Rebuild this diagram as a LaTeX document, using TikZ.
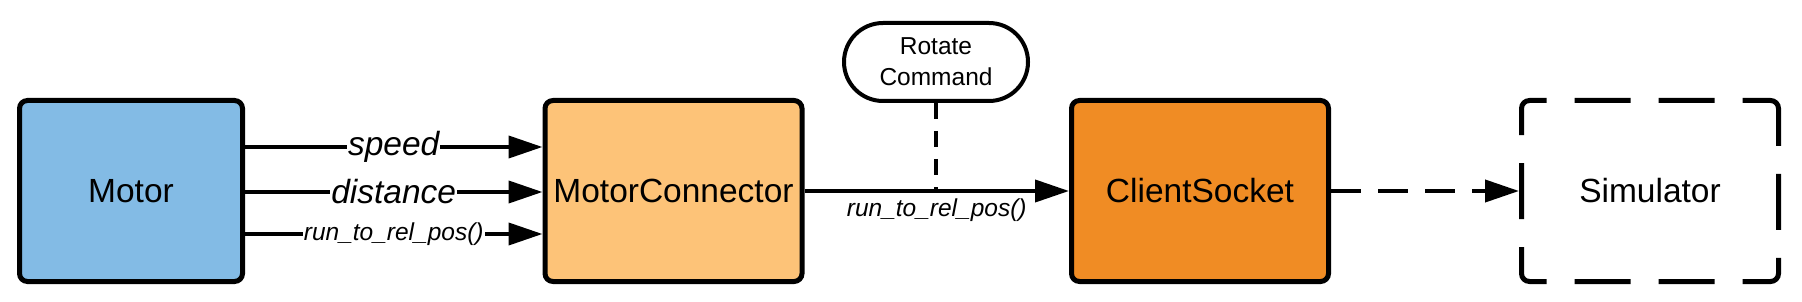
\documentclass[tikz,border=0pt]{standalone}
\usepackage{fontspec}
\setmainfont{Liberation Sans}
\usetikzlibrary{arrows.meta}
\definecolor{motorblue}{RGB}{131,187,229}
\definecolor{mclight}{RGB}{253,195,120}
\definecolor{csorange}{RGB}{240,140,36}
\tikzset{
  block/.style={draw=black, line width=5pt, rounded corners=8pt, minimum width=257pt, minimum height=181pt, inner sep=0pt, font=\fontsize{33.5}{40}\selectfont},
  conn/.style={line width=4pt, -{Triangle[length=34pt,width=22pt]}},
  lbl/.style={fill=white, inner sep=1pt, font=\fontsize{33.5}{40}\selectfont\itshape},
  slbl/.style={fill=white, inner sep=1pt, font=\fontsize{24.5}{30}\selectfont\itshape},
  pill/.style={draw=black, line width=4pt, rounded corners=39pt, minimum width=184pt, minimum height=78pt, inner sep=0pt, align=center, font=\fontsize{24.5}{31}\selectfont},
}
\begin{document}
\begin{tikzpicture}[x=1pt,y=-1pt]
\useasboundingbox (0,0) rectangle (1802,302);
\node[block, fill=motorblue, minimum width=223pt] (motor) at (131,191) {Motor};
\node[block, fill=mclight] (mc) at (673.5,191) {MotorConnector};
\node[block, fill=csorange] (cs) at (1200,191) {ClientSocket};
\node[block, dash pattern=on 56pt off 28pt, dash phase=28pt] (sim) at (1650,191) {Simulator};
\node[pill] (rot) at (936,62) {Rotate\\Command};

\draw[conn] (motor.east |- 0,147) -- (mc.west |- 0,147) node[midway, lbl] {speed};
\draw[conn] (motor.east |- 0,192) -- (mc.west |- 0,192) node[midway, lbl] {distance};
\draw[conn] (motor.east |- 0,234) -- (mc.west |- 0,234) node[midway, slbl] {run\_to\_rel\_pos()};

\draw[line width=4pt, dash pattern=on 16pt off 12pt] (rot.south) -- (rot.south |- mc.east);
\draw[conn] (mc.east) -- (cs.west) node[midway, below=5pt, inner sep=1pt, font=\fontsize{24.5}{30}\selectfont\itshape] {run\_to\_rel\_pos()};
\draw[conn, dash pattern=on 30pt off 17pt] (cs.east) -- (sim.west);
\end{tikzpicture}
\end{document}
